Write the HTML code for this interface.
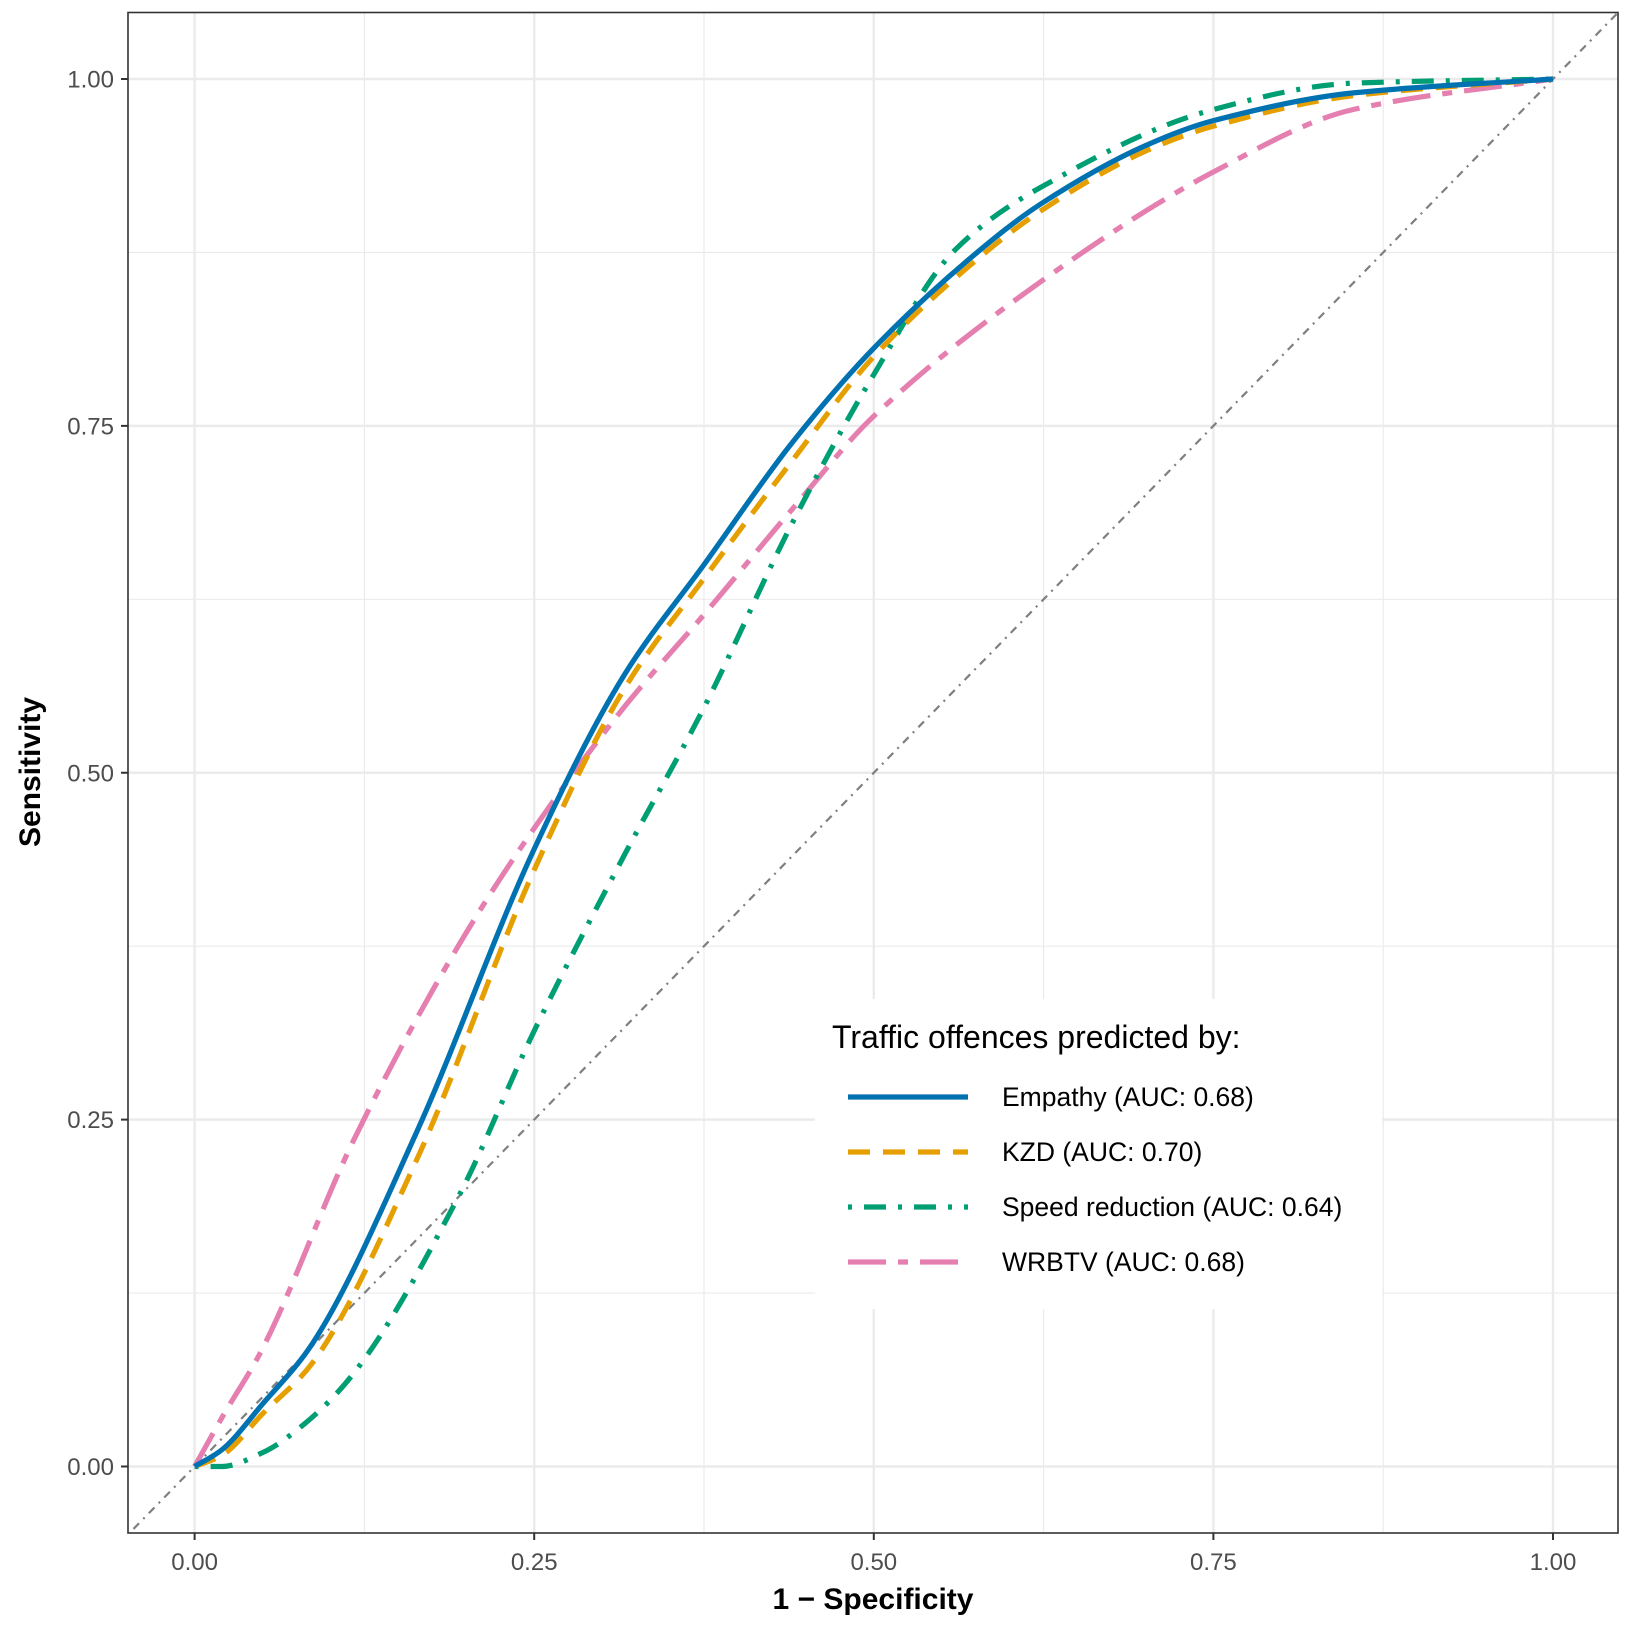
<!DOCTYPE html>
<html><head><meta charset="utf-8"><style>
body{margin:0;background:#fff}
svg{display:block;font-family:"Liberation Sans",sans-serif}
</style></head><body>
<svg id="chart" width="1632" height="1626" viewBox="0 0 1632 1626">
<g id="grid"></g>
<g id="curves"></g>
<rect x="128" y="12.5" width="1490" height="1520.5" fill="none" stroke="#333" stroke-width="1.6"/>
<g id="axes"></g>
<text x="873" y="1609" text-anchor="middle" font-size="30" font-weight="bold">1 − Specificity</text>
<text transform="translate(40,772) rotate(-90)" text-anchor="middle" font-size="30" font-weight="bold">Sensitivity</text>
<g id="legend">
<rect x="815" y="999" width="567" height="310" fill="#fff"/>
<text x="832" y="1048" font-size="32" fill="#000">Traffic offences predicted by:</text>
</g>
</svg>
<script>
const categories=["Empathy (AUC: 0.68)","KZD (AUC: 0.70)","Speed reduction (AUC: 0.64)","WRBTV (AUC: 0.68)"];
const empathyFpr=[0,0.02,0.05,0.087,0.163,0.25,0.316,0.375,0.44,0.5,0.57,0.623,0.7,0.75,0.853,1];
const empathyTpr=[0,0.012,0.045,0.089,0.24,0.445,0.57,0.65,0.738,0.806,0.87,0.91,0.952,0.97,0.99,1];
const kzdFpr=[0,0.02,0.05,0.087,0.163,0.25,0.316,0.375,0.44,0.5,0.57,0.623,0.7,0.75,0.853,1];
const kzdTpr=[0,0.008,0.038,0.075,0.22,0.43,0.56,0.64,0.725,0.8,0.865,0.905,0.948,0.966,0.988,1];
const speedFpr=[0,0.02,0.05,0.08,0.117,0.194,0.25,0.316,0.375,0.44,0.5,0.56,0.623,0.75,0.853,1];
const speedTpr=[0,0,0.01,0.03,0.067,0.194,0.314,0.44,0.547,0.68,0.787,0.877,0.922,0.978,0.997,1];
const wrbtvFpr=[0,0.02,0.05,0.117,0.194,0.25,0.316,0.375,0.44,0.5,0.623,0.75,0.853,1];
const wrbtvTpr=[0,0.035,0.085,0.235,0.375,0.46,0.547,0.614,0.69,0.757,0.854,0.933,0.978,1];
const xTicks=["0.00","0.25","0.50","0.75","1.00"];
const yTicks=["0.00","0.25","0.50","0.75","1.00"];
const NS="http://www.w3.org/2000/svg";
const X=v=>194.6+v*(1553-194.6);
const Y=v=>1466.5-v*(1466.5-79);
function mk(tag,attrs,parent){const e=document.createElementNS(NS,tag);for(const k in attrs)e.setAttribute(k,attrs[k]);parent.appendChild(e);return e;}
const grid=document.getElementById('grid'),axes=document.getElementById('axes'),curves=document.getElementById('curves');
for(let i=0;i<=8;i++){const v=i/8;const major=i%2===0;
 const gx=mk('line',{x1:X(v),x2:X(v),y1:12.5,y2:1533,stroke:'#ebebeb','stroke-width':major?2.4:1.2},grid);
 
 const gy=mk('line',{x1:128,x2:1618,y1:Y(v),y2:Y(v),stroke:'#ebebeb','stroke-width':major?2.4:1.2},grid);
 }
xTicks.forEach(t=>{const v=+t;
 const tk=mk('line',{x1:X(v),x2:X(v),y1:1533,y2:1540,stroke:'#333','stroke-width':2},axes);
 
 const tl=mk('text',{x:X(v),y:1570,'text-anchor':'middle','font-size':24,fill:'#4d4d4d'},axes);tl.textContent=t;
 });
yTicks.forEach(t=>{const v=+t;
 const tk=mk('line',{x1:121,x2:128,y1:Y(v),y2:Y(v),stroke:'#333','stroke-width':2},axes);
 
 const tl=mk('text',{x:114,y:Y(v)+8.5,'text-anchor':'end','font-size':24,fill:'#4d4d4d'},axes);tl.textContent=t;
 });
const diag=mk('line',{x1:X(-0.045),y1:Y(-0.045),x2:1618,y2:Y((1618-194.6)/(1553-194.6)),stroke:'#7f7f7f','stroke-width':2.2,'stroke-dasharray':'8 6 2 6'},curves);

function monotone(fx,fy){const n=fx.length,x=fx.map(X),y=fy.map(Y);const d=[],m=new Array(n);
 for(let i=0;i<n-1;i++)d.push((y[i+1]-y[i])/(x[i+1]-x[i]));
 m[0]=d[0];m[n-1]=d[n-2];
 for(let i=1;i<n-1;i++){m[i]=(d[i-1]*d[i]<=0)?0:2/(1/d[i-1]+1/d[i]);}
 let p=`M${x[0]},${y[0]}`;
 for(let i=0;i<n-1;i++){const h=(x[i+1]-x[i])/3;p+=`C${x[i]+h},${y[i]+m[i]*h} ${x[i+1]-h},${y[i+1]-m[i+1]*h} ${x[i+1]},${y[i+1]}`;}
 return p;}
const series=[[empathyFpr,empathyTpr,'#0072b2','','curve-empathy'],[kzdFpr,kzdTpr,'#e69f00','22 13','curve-kzd'],[speedFpr,speedTpr,'#009e73','4 12 22 12','curve-speed-reduction'],[wrbtvFpr,wrbtvTpr,'#e57fb0','38 12 10 12','curve-wrbtv']];
series.slice().reverse().forEach(s=>{const a={d:monotone(s[0],s[1]),fill:'none',stroke:s[2],'stroke-width':5.2};if(s[3])a['stroke-dasharray']=s[3];
 const pth=mk('path',a,curves);});
const leg=document.getElementById('legend');
const legY=[1097,1152,1207,1262];
categories.forEach((c,i)=>{const s=series[i];const a={x1:848,x2:968,y1:legY[i],y2:legY[i],stroke:s[2],'stroke-width':5.2};if(s[3])a['stroke-dasharray']=s[3];
 const ln=mk('line',a,leg);
 const tx=mk('text',{x:1002,y:legY[i]+9,'font-size':26.5,fill:'#000'},leg);tx.textContent=c;
 });
</script>
</body></html>
